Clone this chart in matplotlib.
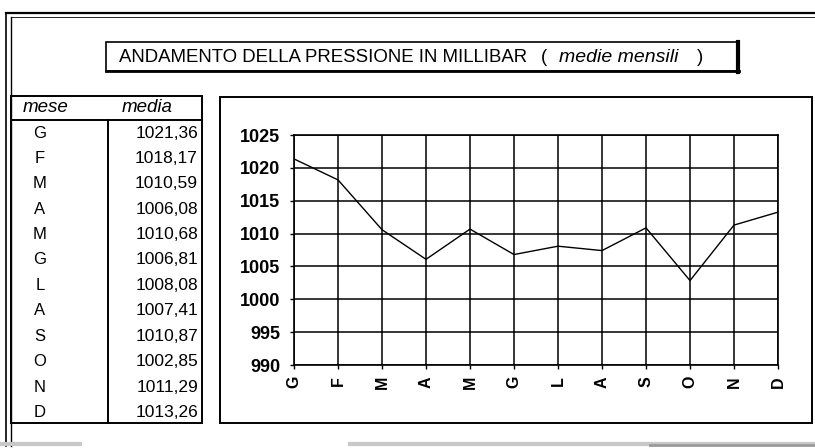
import matplotlib
matplotlib.use("Agg")
import matplotlib.pyplot as plt
from matplotlib.patches import Rectangle

# dati: pressione media mensile (millibar)
mesi = ["G", "F", "M", "A", "M", "G", "L", "A", "S", "O", "N", "D"]
media = [1021.36, 1018.17, 1010.59, 1006.08, 1010.68, 1006.81,
         1008.08, 1007.41, 1010.87, 1002.85, 1011.29, 1013.26]
y_ticks = [990, 995, 1000, 1005, 1010, 1015, 1020, 1025]

W, H = 815, 448
FONT = ["Liberation Sans", "DejaVu Sans"]
plt.rcParams["font.family"] = FONT

fig = plt.figure(figsize=(W / 100, H / 100), dpi=100)
fig.patch.set_facecolor("white")

# livello di sfondo in coordinate pixel per cornici, titolo e tabella
bg = fig.add_axes([0, 0, 1, 1])
bg.set_xlim(0, W)
bg.set_ylim(H, 0)
bg.axis("off")

k = "black"
# cornice esterna (doppia a sinistra)
bg.plot([6, 815], [13, 13], color=k, lw=1.6)
bg.plot([11, 815], [17, 17], color=k, lw=0.6)
bg.plot([6, 6], [13, 446], color=k, lw=1.2)
bg.plot([11, 11], [17, 446], color=k, lw=1.0)
bg.plot([0, 80], [444, 444], color="#c8c8c8", lw=3)
bg.plot([350, 815], [444, 444], color="#c8c8c8", lw=3)
bg.plot([650, 815], [445, 445], color="#9a9a9a", lw=2)

# riquadro del titolo con ombra a destra e in basso
bg.add_patch(Rectangle((106, 42), 632, 29, fill=False, ec=k, lw=1.2))
bg.plot([738, 738], [42, 72], color=k, lw=3)
bg.plot([106, 739], [71.5, 71.5], color=k, lw=2)
bg.text(119, 57, "ANDAMENTO DELLA PRESSIONE IN MILLIBAR", fontsize=13.4,
        va="center", ha="left")
bg.text(541, 57, "(", fontsize=13.4, va="center", ha="left")
bg.text(559, 57, "medie mensili", fontsize=14, style="italic",
        va="center", ha="left")
bg.text(697, 57, ")", fontsize=13.4, va="center", ha="left")

# tabella
bg.add_patch(Rectangle((11, 96), 191, 327, fill=False, ec=k, lw=1.4))
bg.plot([11, 202], [120, 120], color=k, lw=1.4)
bg.plot([108, 108], [120, 423], color=k, lw=1.4)
bg.text(23, 108, "mese", fontsize=13.5, style="italic", va="center", ha="left")
bg.text(122, 108, "media", fontsize=13.5, style="italic", va="center", ha="left")
for i, (m, v) in enumerate(zip(mesi, media)):
    yy = 133 + 25.4 * i
    bg.text(40, yy, m, fontsize=12, va="center", ha="center")
    bg.text(198, yy, f"{v:.2f}".replace(".", ","), fontsize=12.5,
            va="center", ha="right")

# riquadro del grafico
bg.add_patch(Rectangle((220, 97), 592, 326, fill=False, ec=k, lw=1.4))

# area del grafico
x0, x1, y_top, y_bot = 294, 778, 135, 365
ax = fig.add_axes([x0 / W, (H - y_bot) / H, (x1 - x0) / W, (y_bot - y_top) / H])
ax.set_facecolor("white")
x = list(range(len(mesi)))
ax.plot(x, media, color=k, lw=1.0)
ax.set_xlim(0, len(mesi) - 1)
ax.set_ylim(990, 1025)
ax.set_yticks(y_ticks)
ax.set_yticklabels([str(t) for t in y_ticks], fontsize=13, fontweight="bold")
ax.set_xticks(x)
ax.set_xticklabels(mesi, rotation=90, fontsize=11.5, fontweight="bold")
ax.tick_params(axis="both", length=3, width=1, color=k)
ax.tick_params(axis="y", pad=7)
ax.tick_params(axis="x", pad=5)
ax.grid(True, color=k, lw=1.1)
for s in ax.spines.values():
    s.set_color(k)
    s.set_linewidth(1.2)

fig.savefig("out.png", dpi=100)
